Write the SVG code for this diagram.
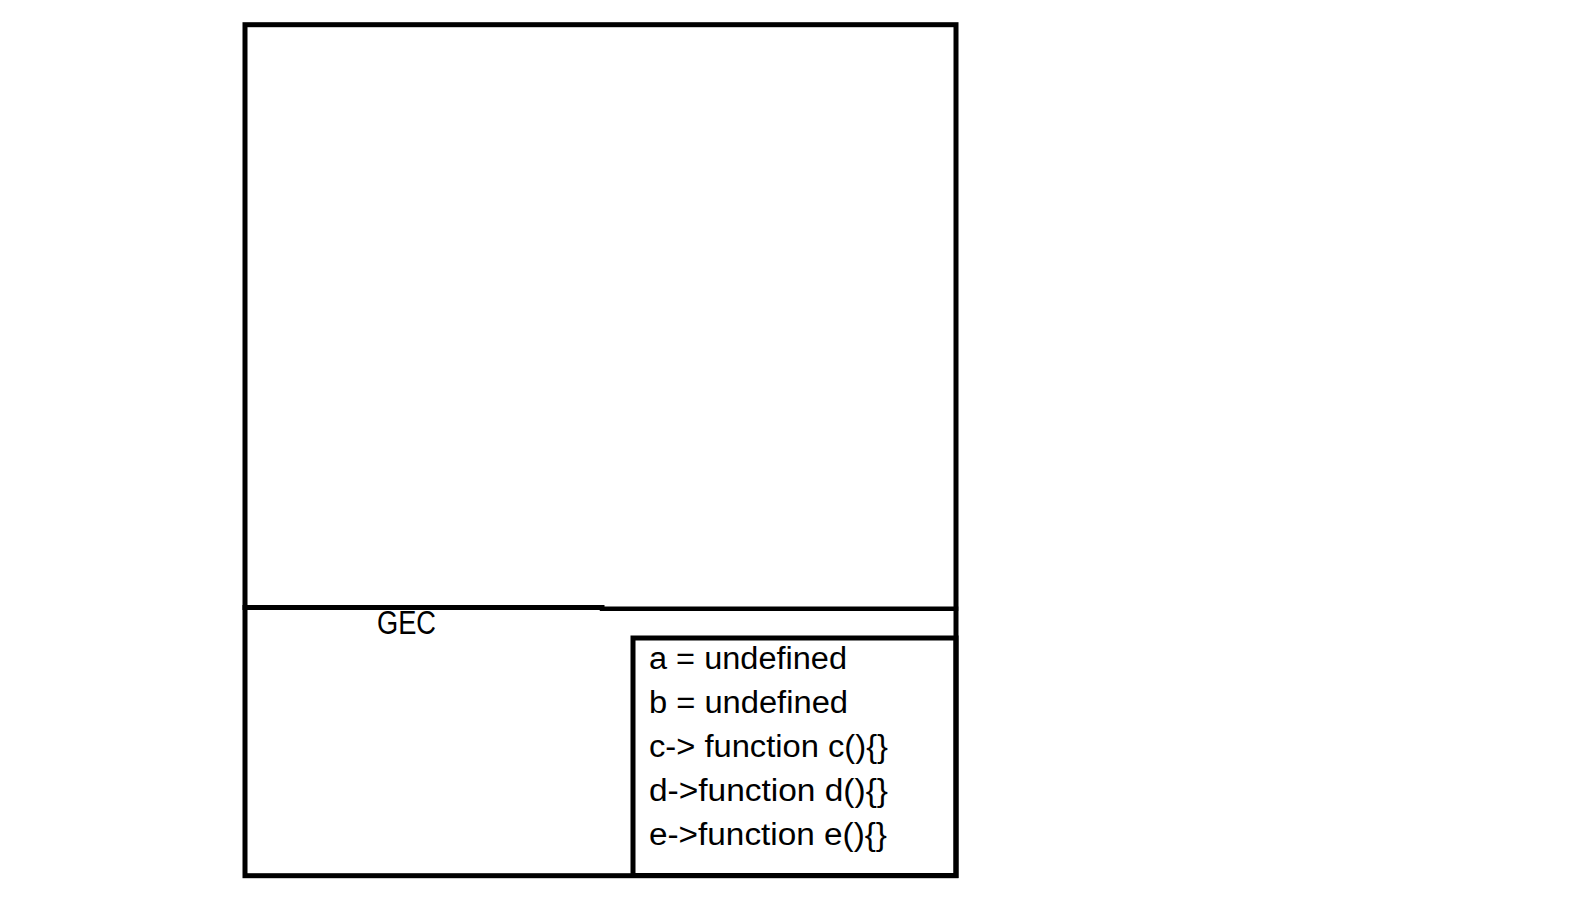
<svg xmlns="http://www.w3.org/2000/svg" width="1586" height="919" viewBox="0 0 1586 919">
<style>
.ln{stroke:#000;fill:none;stroke-linecap:square}
.t{font-family:"Liberation Sans",Arial,sans-serif;font-size:31px;fill:#000}
</style>
<rect width="1586" height="919" fill="#fff"/>
<g id="gec-outer">
<rect class="ln" x="245" y="24.7" width="711" height="851" stroke-width="5"/>
</g>
<g id="connectors">
<line class="ln" x1="245" y1="607.5" x2="602" y2="607.5" stroke-width="5" stroke-linecap="butt"/>
<line class="ln" x1="602" y1="608.7" x2="956" y2="608.7" stroke-width="4.5" stroke-linecap="butt"/>
</g>
<g id="gec-label">
<text class="t" x="377" y="634" style="font-size:33px" textLength="59" lengthAdjust="spacingAndGlyphs">GEC</text>
</g>
<g id="memory">
<rect class="ln" x="633" y="638" width="323" height="237.5" stroke-width="5"/>
<text class="t" x="649" y="669" textLength="198" lengthAdjust="spacingAndGlyphs">a = undefined</text>
<text class="t" x="649" y="713" textLength="199" lengthAdjust="spacingAndGlyphs">b = undefined</text>
<text class="t" x="649" y="757" textLength="239" lengthAdjust="spacingAndGlyphs">c-&gt; function c(){}</text>
<text class="t" x="649" y="801" textLength="239" lengthAdjust="spacingAndGlyphs">d-&gt;function d(){}</text>
<text class="t" x="649" y="845" textLength="238" lengthAdjust="spacingAndGlyphs">e-&gt;function e(){}</text>
</g>
</svg>
